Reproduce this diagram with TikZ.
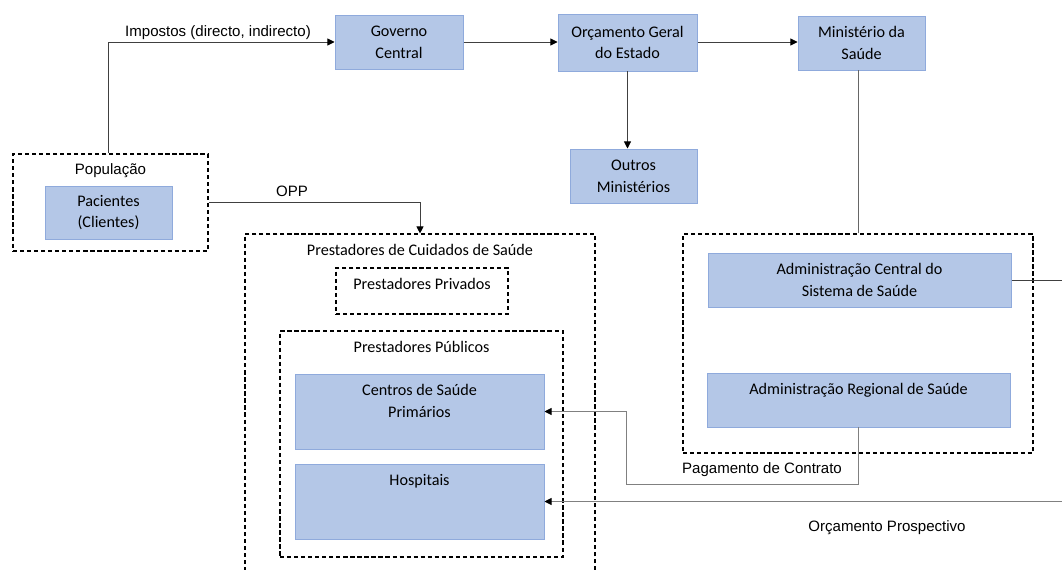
\documentclass[tikz,border=0pt]{standalone}
\usepackage{fontspec}
\setmainfont{Carlito}
\newfontfamily\arialfont{Liberation Sans}
\usetikzlibrary{arrows.meta, positioning, fit}
\definecolor{boxfill}{HTML}{B4C7E7}
\definecolor{boxline}{HTML}{8FAADC}
\definecolor{wire}{HTML}{404040}
\definecolor{wirelight}{HTML}{808080}
\tikzset{
  box/.style={draw=boxline, fill=boxfill, line width=0.7pt, inner sep=0pt},
  grp/.style={draw=black, dash pattern=on 3pt off 2pt, line width=0.8pt, inner sep=0pt},
  ttl/.style={anchor=north, inner sep=0pt, yshift=-7.8pt, align=center,
    font=\fontsize{11.5}{15.5}\selectfont},
  mid/.style={anchor=center, inner sep=0pt, align=center,
    font=\fontsize{11.5}{15.5}\selectfont},
  arr/.style={-{Triangle[length=5pt, width=5pt, color=black]}, draw=wire, line width=0.6pt},
  ln/.style={draw=wire, line width=0.6pt},
  lbl/.style={font=\arialfont\fontsize{10.7}{12}\selectfont, inner sep=1pt},
}

\begin{document}
\begin{tikzpicture}[x=0.025cm, y=-0.025cm]
  \useasboundingbox (0,0) rectangle (1062,570);
  \clip (0,0) rectangle (1062,570);
  \coordinate (edge) at (1075,0);

  % financing chain
  \node[box, fit={(335,15) (463,69)}, label={[mid]center:Governo\\Central}] (gov) {};
  \node[box, fit={(558,14) (697,71)}, label={[mid]center:Orçamento Geral\\do Estado}] (oge) {};
  \node[box, fit={(798,16) (925,70)}, label={[mid]center:Ministério da\\Saúde}] (min) {};
  \node[box, fit={(570,149) (697,203)}, label={[mid]center:Outros\\Ministérios}] (out) {};

  % population
  \node[grp, fit={(13,154) (208,251)},
    label={[ttl, yshift=1pt, font=\arialfont\fontsize{10.7}{12}\selectfont]north:População}] (pop) {};
  \node[box, fit={(45,186) (172,239)}, label={[mid]center:Pacientes\\(Clientes)}] (pac) {};

  % providers
  \node[grp, fit={(245,234) (595,600)},
    label={[ttl]north:Prestadores de Cuidados de Saúde}] (care) {};
  \node[grp, fit={(336,268) (508,314)},
    label={[ttl]north:Prestadores Privados}] (priv) {};
  \node[grp, fit={(280,331) (563,557)},
    label={[ttl]north:Prestadores Públicos}] (pub) {};
  \node[box, fit={(295,374) (544,449)},
    label={[ttl]north:Centros de Saúde\\Primários}] (csp) {};
  \node[box, fit={(295,464) (544,539)},
    label={[ttl]north:Hospitais}] (hos) {};

  % administration
  \node[grp, fit={(683,234) (1033,453)}] (adm) {};
  \node[box, fit={(708,253) (1011,307)},
    label={[mid]center:Administração Central do\\Sistema de Saúde}] (acs) {};
  \node[box, fit={(707,373) (1010,427)},
    label={[ttl]north:Administração Regional de Saúde}] (ars) {};

  % flow labels
  \node[lbl] (ltax) at (218,33) {Impostos (directo, indirecto)};
  \node[lbl] (lopp) at (292,191) {OPP};
  \node[lbl] (lpay) at (762,470) {Pagamento de Contrato};
  \node[lbl] (lbud) at (887,528) {Orçamento Prospectivo};

  % connectors
  \draw[arr] (pac.north |- pop.north) |- (gov.west);
  \draw[arr] (gov.east) -- (gov.east -| oge.west);
  \draw[arr] (oge.east |- gov.east) -- (oge.east |- gov.east -| min.west);
  \draw[arr] (oge.south) -- (oge.south |- out.north);
  \draw[arr] (pop.east) -| (care.north);
  \draw[ln, draw=wire!80] (adm.north) -- (adm.north |- min.south);
  \draw[ln] (acs.east) -- (acs.east -| edge);
  \coordinate (pay) at (626,484);
  \draw[arr, draw=wirelight] (ars.south) |- (pay) |- (csp.east);
  \draw[arr, draw=wirelight] (hos.east -| edge) -- (hos.east);
\end{tikzpicture}
\end{document}
